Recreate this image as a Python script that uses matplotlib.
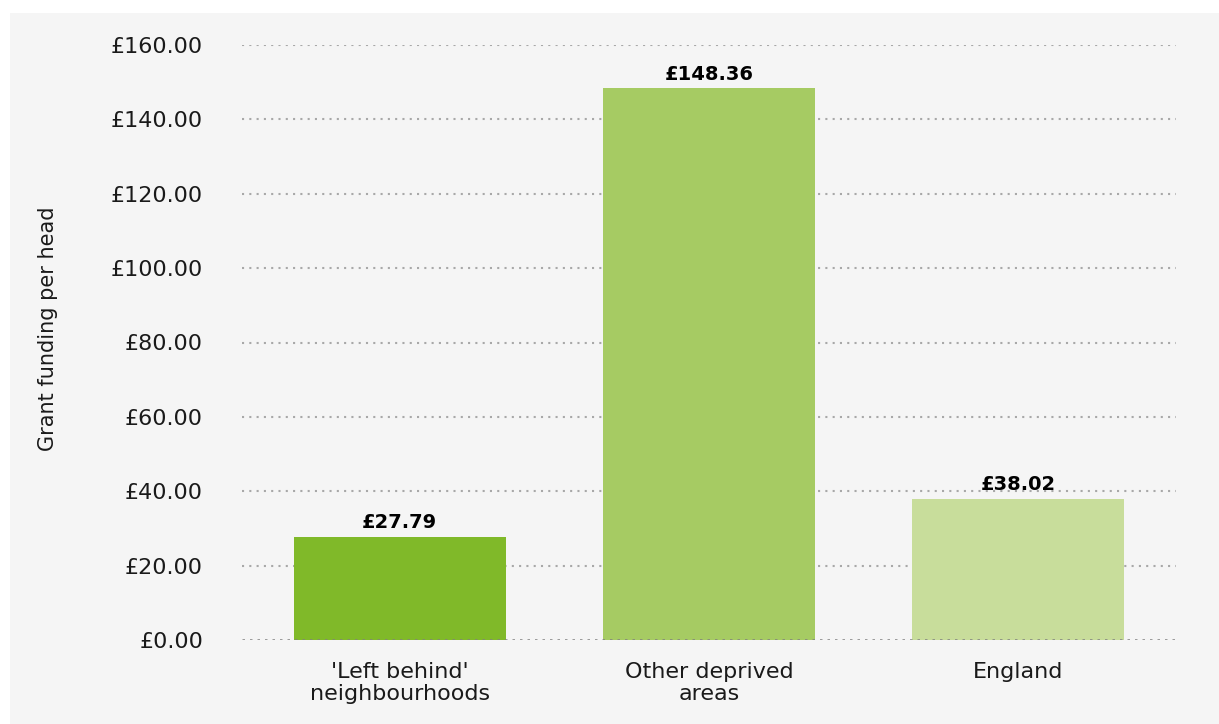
import matplotlib.pyplot as plt
import numpy as np

categories = ["'Left behind'\nneighbourhoods", "Other deprived\nareas", "England"]
values = [27.79, 148.36, 38.02]
labels = ["£27.79", "£148.36", "£38.02"]
colors = ["#80b929", "#a6cb63", "#c8dd9b"]
yticks = [0, 20, 40, 60, 80, 100, 120, 140, 160]

plt.rcParams['font.family'] = ['DejaVu Sans']

fig = plt.figure(figsize=(12.19, 7.24), dpi=100)
fig.patch.set_facecolor('white')
# grey panel behind the chart
fig.patches.append(plt.Rectangle((10 / 1219, 0), 1, 1 - 13 / 724, transform=fig.transFigure,
                                 facecolor='#f5f5f5', edgecolor='none', zorder=-10))

ax = fig.add_axes([242 / 1219, 1 - 640 / 724, (1176 - 242) / 1219, (640 - 45) / 724])
ax.set_facecolor('none')

x = np.arange(len(categories))
ax.bar(x, values, width=0.686, color=colors, zorder=3)
for xi, v, lab in zip(x, values, labels):
    ax.text(xi, v + 1.2, lab, ha='center', va='bottom', fontsize=14, fontweight='heavy', zorder=4)

ax.set_ylim(0, 160)
ax.set_xlim(-0.51, 2.51)
ax.set_yticks(yticks)
ax.set_yticklabels([f"£{t:.2f}" for t in yticks], fontsize=16, color='#1a1a1a')
ax.set_xticks(x)
ax.set_xticklabels(categories, fontsize=16, color='#1a1a1a', linespacing=1.1)
ax.tick_params(axis='both', length=0)
ax.tick_params(axis='y', pad=28)
ax.tick_params(axis='x', pad=16)

for t in yticks[1:]:
    ax.axhline(t, color='#a8a8a8', linestyle=(0, (1, 2.5)), linewidth=1.5, zorder=1)
ax.axhline(0, color='#808080', linestyle=(0, (1, 2)), linewidth=1.8, zorder=4)

for s in ax.spines.values():
    s.set_visible(False)

fig.text(48 / 1219, 1 - 329 / 724, "Grant funding per head", rotation=90,
         ha='center', va='center', fontsize=15, color='#1a1a1a')

fig.savefig('out.png', dpi=100)
